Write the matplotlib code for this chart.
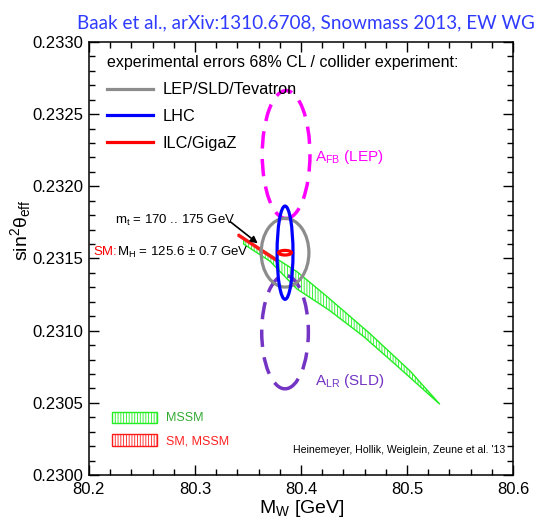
import numpy as np
import matplotlib
matplotlib.use('Agg')
import matplotlib.pyplot as plt
from matplotlib.patches import Ellipse, Polygon, Patch
from matplotlib.lines import Line2D
from matplotlib.ticker import MultipleLocator, FormatStrFormatter

# ── Fonts ─────────────────────────────────────────────────────────────────────
plt.rcParams['font.family'] = 'sans-serif'
plt.rcParams['font.sans-serif'] = ['Liberation Sans', 'DejaVu Sans']
plt.rcParams['mathtext.fontset'] = 'custom'
plt.rcParams['mathtext.rm'] = 'Liberation Sans'
plt.rcParams['mathtext.it'] = 'Liberation Sans:italic'
plt.rcParams['hatch.linewidth'] = 0.6

# ── Data ──────────────────────────────────────────────────────────────────────
# 68% CL ellipses of the collider precision (MW, sin2theta_eff)
coll_labels = ['LEP/SLD/Tevatron', 'LHC', 'ILC/GigaZ']
coll_mw     = [80.385, 80.385, 80.385]
coll_sw     = [0.23154, 0.23154, 0.23154]
coll_dmw    = [0.0225, 0.0075, 0.0060]
coll_dsw    = [0.000238, 0.000323, 0.000016]

# single asymmetry measurements
asym_labels = ['A$_{\\rm FB}$ (LEP)', 'A$_{\\rm LR}$ (SLD)']
asym_mw     = [80.386, 80.385]
asym_sw     = [0.23222, 0.23099]
asym_dmw    = [0.0225, 0.0220]
asym_dsw    = [0.000443, 0.000393]

# MSSM band (upper and lower boundary)
mssm_up_mw  = [80.346, 80.368, 80.396, 80.424, 80.465, 80.503, 80.531]
mssm_up_sw  = [0.23163, 0.23154, 0.23141, 0.23124, 0.23098, 0.23072, 0.23049]
mssm_lo_mw  = [80.346, 80.371, 80.396, 80.427, 80.459, 80.490, 80.531]
mssm_lo_sw  = [0.23160, 0.23148, 0.23129, 0.23114, 0.23096, 0.23076, 0.23049]

# SM band, mt = 170 .. 175 GeV
sm_up_mw    = [80.341, 80.377]
sm_up_sw    = [0.231668, 0.231494]
sm_lo_mw    = [80.341, 80.377]
sm_lo_sw    = [0.231656, 0.231482]

# ── Colours ───────────────────────────────────────────────────────────────────
coll_colors = ['#8c8c8c', '#0000ff', '#ff0000']
asym_colors = ['#ff00ff', '#7434c4']
c_mssm = '#22ee22'
c_sm   = '#ff1a1a'

# ── Figure ────────────────────────────────────────────────────────────────────
fig = plt.figure(figsize=(5.42, 5.18), dpi=100)
ax = fig.add_axes([0.164, 0.083, 0.7825, 0.836])

# bands
mssm_poly = np.column_stack([mssm_up_mw + mssm_lo_mw[::-1],
                             mssm_up_sw + mssm_lo_sw[::-1]])
ax.add_patch(Polygon(mssm_poly, closed=True, facecolor='white',
                     edgecolor=c_mssm, hatch='||||||', lw=1.0, zorder=1))
sm_poly = np.column_stack([sm_up_mw + sm_lo_mw[::-1],
                           sm_up_sw + sm_lo_sw[::-1]])
ax.add_patch(Polygon(sm_poly, closed=True, facecolor=c_sm,
                     edgecolor=c_sm, lw=1.5, zorder=2))

# asymmetry ellipses (dashed)
for mw, sw, dmw, dsw, col in zip(asym_mw, asym_sw, asym_dmw, asym_dsw, asym_colors):
    ax.add_patch(Ellipse((mw, sw), 2 * dmw, 2 * dsw, fill=False, edgecolor=col,
                         lw=2.5, linestyle=(0, (5, 3)), zorder=3))

# collider ellipses
for mw, sw, dmw, dsw, col in zip(coll_mw, coll_sw, coll_dmw, coll_dsw, coll_colors):
    ax.add_patch(Ellipse((mw, sw), 2 * dmw, 2 * dsw, fill=False, edgecolor=col,
                         lw=2.3, zorder=4))

# ── Axes ──────────────────────────────────────────────────────────────────────
ax.set_xlim(80.2, 80.6)
ax.set_ylim(0.2300, 0.2330)
ax.xaxis.set_major_locator(MultipleLocator(0.1))
ax.xaxis.set_minor_locator(MultipleLocator(0.02))
ax.yaxis.set_major_locator(MultipleLocator(0.0005))
ax.yaxis.set_minor_locator(MultipleLocator(0.0001))
ax.xaxis.set_major_formatter(FormatStrFormatter('%.1f'))
ax.yaxis.set_major_formatter(FormatStrFormatter('%.4f'))
ax.tick_params(which='both', direction='in', top=True, right=True,
               labelsize=12, width=1.0)
ax.tick_params(which='major', length=7.5)
ax.tick_params(which='minor', length=4)
ax.tick_params(axis='x', pad=5)
ax.tick_params(axis='y', pad=4)
for sp in ax.spines.values():
    sp.set_linewidth(1.1)

ax.set_xlabel('M$_{\\rm W}$ [GeV]', fontsize=14)
ax.xaxis.set_label_coords(0.502, -0.053)
ax.set_ylabel('sin$^{2}$θ$_{\\rm eff}$', fontsize=14)
ax.yaxis.set_label_coords(-0.132, 0.565)

# ── Annotations ───────────────────────────────────────────────────────────────
ax.text(80.2245, 0.231766, 'm$_{\\rm t}$ = 170 .. 175 GeV', fontsize=9.5,
        ha='left', va='center')
ax.annotate('', xy=(80.3613, 0.231593), xytext=(80.3314, 0.231766),
            arrowprops=dict(arrowstyle='-|>', color='black', lw=1.2,
                            mutation_scale=10))
ax.text(80.2047, 0.231544, 'SM:', color='red', fontsize=9.5,
        ha='left', va='center')
ax.text(80.2265, 0.231544, 'M$_{\\rm H}$ = 125.6 ± 0.7 GeV', fontsize=9.5,
        ha='left', va='center')

ax.text(80.4132, 0.232202, asym_labels[0], color=asym_colors[0], fontsize=11,
        ha='left', va='center')
ax.text(80.4132, 0.230651, asym_labels[1], color=asym_colors[1], fontsize=11,
        ha='left', va='center')

ax.text(0.981, 0.058, "Heinemeyer, Hollik, Weiglein, Zeune et al. '13",
        transform=ax.transAxes, fontsize=7.6, ha='right', va='center')

# ── Legends ───────────────────────────────────────────────────────────────────
coll_handles = [Line2D([], [], color=c, lw=2.3) for c in coll_colors]
leg1 = ax.legend(coll_handles, coll_labels, loc='upper left',
                 bbox_to_anchor=(0.0165, 0.995), frameon=False, fontsize=11.7,
                 title='experimental errors 68% CL / collider experiment:',
                 title_fontsize=11.5, handlelength=2.8, handletextpad=0.6,
                 labelspacing=0.72, borderaxespad=0.3)
leg1._legend_box.align = 'left'
ax.add_artist(leg1)

band_handles = [Patch(facecolor='white', edgecolor=c_mssm, hatch='||||||', lw=1.0),
                Patch(facecolor='white', edgecolor=c_sm, hatch='||||||', lw=1.0)]
leg2 = ax.legend(band_handles, ['MSSM', 'SM, MSSM'], loc='lower left',
                 bbox_to_anchor=(0.028, 0.038), frameon=False, fontsize=9,
                 handlelength=3.6, handleheight=1.0, handletextpad=0.7,
                 labelspacing=0.8)
for txt, col in zip(leg2.get_texts(), ['#33aa33', '#ff2222']):
    txt.set_color(col)

fig.text(0.565, 0.956, 'Baak et al., arXiv:1310.6708, Snowmass 2013, EW WG',
         color='#2f3cff', fontsize=13.6, ha='center', va='center',
         family=['Lato', 'DejaVu Sans'])

fig.savefig('out.png', dpi=100)
